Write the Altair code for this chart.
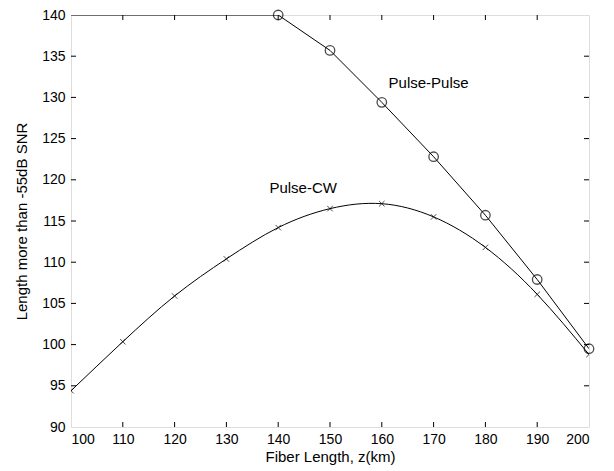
import altair as alt
import pandas as pd

# ---- data ----
fiber_km = [100, 110, 120, 130, 140, 150, 160, 170, 180, 190, 200]
pulse_cw = [94.4, 100.35, 105.9, 110.4, 114.2, 116.5, 117.1, 115.5, 111.8, 106.1, 98.8]
pulse_pulse = [140.0, 140.0, 140.0, 140.0, 140.0, 135.7, 129.4, 122.8, 115.7, 107.9, 99.5]
pp_marker_x = [140, 150, 160, 170, 180, 190, 200]
pp_marker_y = [140.0, 135.7, 129.4, 122.8, 115.7, 107.9, 99.5]

x_ticks = [100, 110, 120, 130, 140, 150, 160, 170, 180, 190, 200]
y_ticks = [90, 95, 100, 105, 110, 115, 120, 125, 130, 135, 140]
inner_x_ticks = [110, 120, 130, 140, 150, 160, 170, 180, 190]
inner_y_ticks = [95, 100, 105, 110, 115, 120, 125, 130, 135]

labels = ["Pulse-Pulse", "Pulse-CW"]
label_x = [161.3, 138.3]
label_y = [131.7, 119.0]

W, H = 518, 412
FONT = "Liberation Sans"

cw_df = pd.DataFrame({"x": fiber_km, "y": pulse_cw})
pp_df = pd.DataFrame({"x": fiber_km, "y": pulse_pulse})
ppm_df = pd.DataFrame({"x": pp_marker_x, "y": pp_marker_y})
lab_df = pd.DataFrame({"label": labels, "x": label_x, "y": label_y})
xt_df = pd.DataFrame({"x": inner_x_ticks})
yt_df = pd.DataFrame({"y": inner_y_ticks})

xs = alt.Scale(domain=[100, 200], nice=False, zero=False)
ys = alt.Scale(domain=[90, 140], nice=False, zero=False)

x_enc = alt.X("x:Q", scale=xs, title="Fiber Length, z(km)",
              axis=alt.Axis(values=x_ticks, ticks=False, grid=False, domain=False,
                            labelFont=FONT, labelFontSize=14, labelColor="black",
                            labelPadding=5, titleFont=FONT, titleFontSize=15,
                            titleFontWeight="normal", titleColor="black", titlePadding=3))
y_enc = alt.Y("y:Q", scale=ys, title="Length more than -55dB SNR",
              axis=alt.Axis(values=y_ticks, ticks=False, grid=False, domain=False,
                            labelFont=FONT, labelFontSize=14, labelColor="black",
                            labelPadding=6, titleFont=FONT, titleFontSize=15,
                            titleFontWeight="normal", titleColor="black", titlePadding=12))

cw_line = alt.Chart(cw_df).mark_line(color="black", strokeWidth=1, interpolate="natural", clip=True).encode(x=x_enc, y=y_enc)
cw_pts = alt.Chart(cw_df).mark_point(shape="M-1,-1L1,1M-1,1L1,-1", size=30, color="black",
                                      filled=False, strokeWidth=1, clip=True).encode(x="x:Q", y="y:Q")
pp_line = alt.Chart(pp_df).mark_line(color="black", strokeWidth=1, interpolate="linear", clip=True).encode(x="x:Q", y="y:Q")
pp_pts = alt.Chart(ppm_df).mark_point(shape="circle", size=90, color="black", filled=False,
                                       strokeWidth=1.3).encode(x="x:Q", y="y:Q")
texts = alt.Chart(lab_df).mark_text(align="left", baseline="middle", font=FONT, fontSize=15,
                                     color="black").encode(x="x:Q", y="y:Q", text="label:N")

tl = 5
xt_bottom = alt.Chart(xt_df).mark_rule(color="black", strokeWidth=1).encode(
    x="x:Q", y=alt.value(H), y2=alt.value(H - tl))
xt_top = alt.Chart(xt_df).mark_rule(color="black", strokeWidth=1).encode(
    x="x:Q", y=alt.value(0), y2=alt.value(tl))
yt_left = alt.Chart(yt_df).mark_rule(color="black", strokeWidth=1).encode(
    y="y:Q", x=alt.value(0), x2=alt.value(tl))
yt_right = alt.Chart(yt_df).mark_rule(color="black", strokeWidth=1).encode(
    y="y:Q", x=alt.value(W), x2=alt.value(W - tl))

chart = alt.layer(cw_line, pp_line, cw_pts, pp_pts, texts,
                  xt_bottom, xt_top, yt_left, yt_right).properties(
    width=W, height=H,
    autosize=alt.AutoSizeParams(type="none"),
    padding={"left": 63, "top": 7, "right": 17, "bottom": 42},
).configure_view(stroke="black", strokeWidth=1.2).configure(background="white")

chart.save("out.html", embed_options={"renderer": "svg", "actions": False})
